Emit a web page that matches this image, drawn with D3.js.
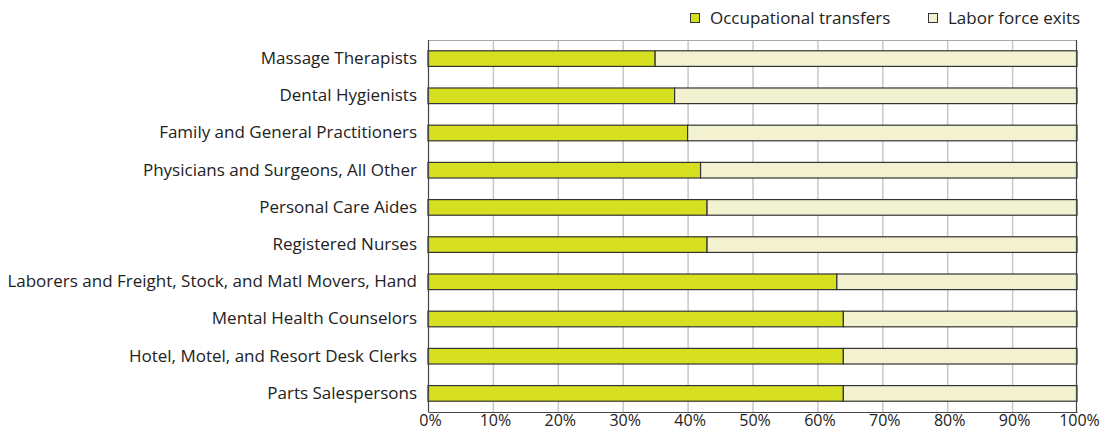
<!DOCTYPE html>
<html>
<head>
<meta charset="utf-8">
<script src="https://cdn.jsdelivr.net/npm/d3@7"></script>
<style>
  body { margin: 0; background: #fff; }
  text { font-family: "Open Sans", Lato, sans-serif; fill: #222; }
</style>
</head>
<body>
<svg id="chart"></svg>
<script>
var occupations = [
  "Massage Therapists",
  "Dental Hygienists",
  "Family and General Practitioners",
  "Physicians and Surgeons, All Other",
  "Personal Care Aides",
  "Registered Nurses",
  "Laborers and Freight, Stock, and Matl Movers, Hand",
  "Mental Health Counselors",
  "Hotel, Motel, and Resort Desk Clerks",
  "Parts Salespersons"
];
var transfers = [35, 38, 40, 42, 43, 43, 63, 64, 64, 64];
var exits = [65, 62, 60, 58, 57, 57, 37, 36, 36, 36];
var ticks = [0, 10, 20, 30, 40, 50, 60, 70, 80, 90, 100];
var seriesNames = ["Occupational transfers", "Labor force exits"];

var W = 1102, H = 432;
var margin = {top: 40, right: 25, bottom: 20, left: 428};
var width = W - margin.left - margin.right;
var height = H - margin.top - margin.bottom;
var colors = ["#d7df21", "#f2f2d0"];
var fontSize = "17px";

var svg = d3.select("#chart").attr("width", W).attr("height", H)
var g = svg.append("g").attr("transform", `translate(${margin.left},${margin.top})`);

var x = d3.scaleLinear().domain([0, 100]).range([0, width]);
var y = d3.scaleBand().domain(occupations).range([0, height]).paddingInner(0.58).paddingOuter(0.29);

// gridlines
g.append("g").selectAll("line")
  .data(ticks.slice(1, -1))
  .enter().append("line")
    .attr("x1", d => x(d) + 0.5).attr("x2", d => x(d) + 0.5)
    .attr("y1", 0).attr("y2", height)
    .attr("stroke", "#c8c8c8").attr("stroke-width", 1.5);

// top border
g.append("line").attr("x1", 0).attr("x2", width).attr("y1", 0.5).attr("y2", 0.5)
  .attr("stroke", "#aaa");

var rows = g.append("g").selectAll("g")
  .data(occupations)
  .enter().append("g");

rows.append("rect")
  .attr("x", x(0))
  .attr("y", d => y(d))
  .attr("width", (d, i) => x(transfers[i]))
  .attr("height", y.bandwidth())
  .attr("fill", colors[0])
  .attr("stroke", "#333").attr("stroke-width", 1.2);

rows.append("rect")
  .attr("x", (d, i) => x(transfers[i]))
  .attr("y", d => y(d))
  .attr("width", (d, i) => x(exits[i]))
  .attr("height", y.bandwidth())
  .attr("fill", colors[1])
  .attr("stroke", "#333").attr("stroke-width", 1.2);

// left and right borders, bottom axis
g.append("line").attr("x1", 0.5).attr("x2", 0.5).attr("y1", 0).attr("y2", height)
  .attr("stroke", "#444").attr("stroke-width", 1.2);
g.append("line").attr("x1", width - 0.5).attr("x2", width - 0.5).attr("y1", 0).attr("y2", height)
  .attr("stroke", "#444").attr("stroke-width", 1.2);

var xAxis = g.append("g")
  .attr("transform", `translate(0,${height})`)
  .call(d3.axisBottom(x).tickValues(ticks).tickSize(0).tickPadding(3).tickFormat(d => d + "%"));
xAxis.select(".domain").attr("stroke", "#444").attr("stroke-width", 1.2);
xAxis.selectAll("text").style("font-size", "16px").attr("fill", "#222").attr("dx", "2");

var yAxis = g.append("g")
  .call(d3.axisLeft(y).tickSize(0).tickPadding(11));
yAxis.select(".domain").remove();
yAxis.selectAll("text").style("font-size", fontSize).attr("fill", "#222");

// legend
var legend = svg.append("g").attr("transform", "translate(690,12)");
var lx = [0, 238];
seriesNames.forEach(function(name, i) {
  legend.append("rect")
    .attr("x", lx[i] + 0.5).attr("y", 1.5)
    .attr("width", 9).attr("height", 9)
    .attr("fill", colors[i]).attr("stroke", "#333");
  legend.append("text")
    .attr("x", lx[i] + 20).attr("y", 6)
    .attr("dy", "0.35em")
    .style("font-size", fontSize)
    .text(name);
});
</script>
</body>
</html>
